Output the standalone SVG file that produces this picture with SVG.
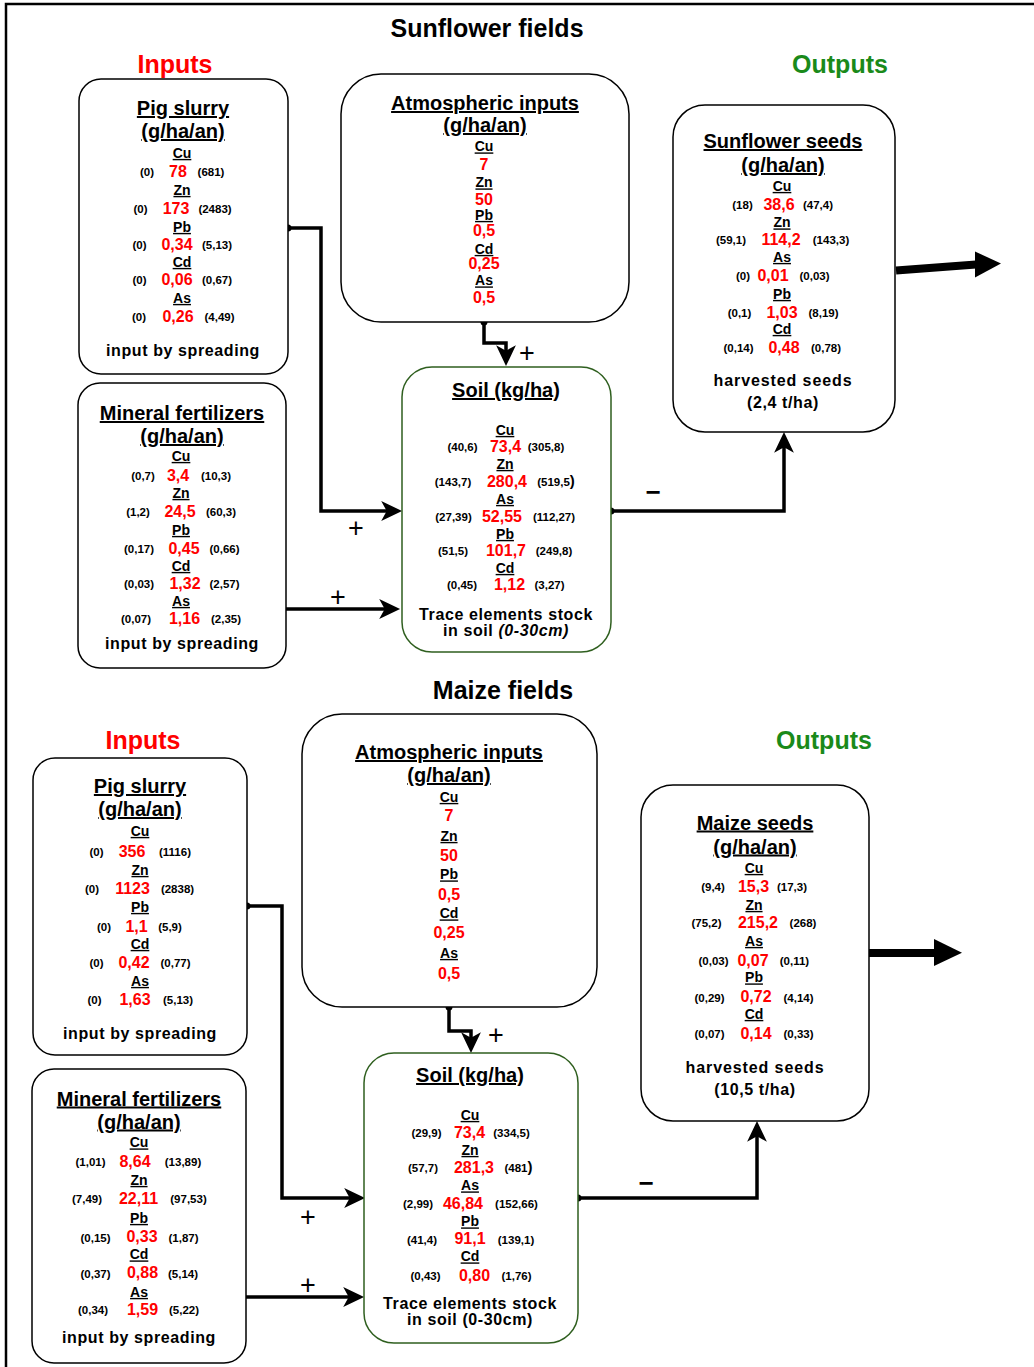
<svg xmlns="http://www.w3.org/2000/svg" width="1034" height="1367" viewBox="0 0 1034 1367">
<style>
.t{font-family:"Liberation Sans",Arial,sans-serif;font-weight:bold;text-anchor:middle;fill:#000}
.h1{font-size:25px}
.in{font-size:25px;fill:#ff0000}
.out{font-size:25px;fill:#1a8a1a}
.bt{font-size:20px;text-decoration:underline}
.el{font-size:14px;text-decoration:underline}
.v{font-size:16px;fill:#ff0000}
.r{font-size:11.5px}
.foot{font-size:16px;letter-spacing:0.6px}
.hs{font-size:16px;letter-spacing:0.9px}
.box{fill:#fff;stroke:#000;stroke-width:1.5}
.soil{fill:#fff;stroke:#2f5f1f;stroke-width:1.5}
.con{fill:none;stroke:#000;stroke-width:3.5}
.sign{font-family:"Liberation Sans",Arial,sans-serif;font-size:27px;text-anchor:middle;fill:#000}
.minus{font-family:"Liberation Sans",Arial,sans-serif;font-size:26px;font-weight:bold;text-anchor:middle;fill:#000}
</style>
<defs>
<marker id="arr" markerUnits="userSpaceOnUse" markerWidth="22" markerHeight="22" viewBox="0 0 20 20" refX="8" refY="10" orient="auto">
<path d="M0,1 L19,10 L0,19 L5,10 Z" fill="#000"/>
</marker>
</defs>
<rect width="1034" height="1367" fill="#fff"/>
<path d="M6,1367 V4 H1034" fill="none" stroke="#000" stroke-width="2.5"/>

<text class="t h1" dy=".35em" x="487" y="28">Sunflower fields</text>
<text class="t in" dy=".35em" x="175" y="64">Inputs</text>
<text class="t out" dy=".35em" x="840" y="64">Outputs</text>

<text class="t h1" dy=".35em" x="503" y="690">Maize fields</text>
<text class="t in" dy=".35em" x="143" y="740">Inputs</text>
<text class="t out" dy=".35em" x="824" y="740">Outputs</text>

<g id="connectors">
<path class="con" d="M288,228 H321 V511 H390" marker-end="url(#arr)"/>
<path class="con" d="M286,609 H388" marker-end="url(#arr)"/>
<path class="con" d="M484,322 V343 H506 V354" marker-end="url(#arr)"/>
<path class="con" d="M611,511 H784 V444" marker-end="url(#arr)"/>
<circle cx="288" cy="228" r="3.5"/>
<circle cx="484" cy="322" r="3.5"/>
<circle cx="611" cy="511" r="3.5"/>
<path d="M896,270.5 L976,264.5" stroke="#000" stroke-width="8" fill="none"/>
<path d="M975,251.5 L1001,263.5 L975,277.5 Z" fill="#000"/>
<text class="sign" dy=".35em" x="356" y="528">+</text>
<text class="sign" dy=".35em" x="338" y="597">+</text>
<text class="sign" dy=".35em" x="527" y="353">+</text>
<text class="minus" dy=".35em" x="653" y="492">−</text>

<path class="con" d="M247,906 H282 V1198 H353" marker-end="url(#arr)"/>
<path class="con" d="M246,1297 H352" marker-end="url(#arr)"/>
<path class="con" d="M449,1007 V1031 H471 V1041" marker-end="url(#arr)"/>
<path class="con" d="M578,1198 H757 V1133" marker-end="url(#arr)"/>
<circle cx="247" cy="906" r="3.5"/>
<circle cx="449" cy="1007" r="3.5"/>
<circle cx="578" cy="1198" r="3.5"/>
<path d="M869,953 L935,953" stroke="#000" stroke-width="8" fill="none"/>
<path d="M934,939 L962,952.7 L934,966 Z" fill="#000"/>
<text class="sign" dy=".35em" x="308" y="1217">+</text>
<text class="sign" dy=".35em" x="308" y="1285">+</text>
<text class="sign" dy=".35em" x="496" y="1035">+</text>
<text class="minus" dy=".35em" x="646" y="1183">−</text>
</g>

<g id="pig-slurry-sunflower">
<rect class="box" x="79" y="79" width="209" height="295" rx="22"/>
<text class="t bt" dy=".35em" x="183" y="108">Pig slurry</text>
<text class="t bt" dy=".35em" x="183" y="131">(g/ha/an)</text>
<text class="t el" dy=".35em" x="182" y="153">Cu</text>
<text class="t r" dy=".35em" x="147" y="172">(0)</text><text class="t v" dy=".35em" x="178" y="171">78</text><text class="t r" dy=".35em" x="211" y="172">(681)</text>
<text class="t el" dy=".35em" x="182" y="190">Zn</text>
<text class="t r" dy=".35em" x="140.5" y="209">(0)</text><text class="t v" dy=".35em" x="176" y="208">173</text><text class="t r" dy=".35em" x="215" y="209">(2483)</text>
<text class="t el" dy=".35em" x="182" y="227">Pb</text>
<text class="t r" dy=".35em" x="139.5" y="245">(0)</text><text class="t v" dy=".35em" x="177" y="244">0,34</text><text class="t r" dy=".35em" x="217" y="245">(5,13)</text>
<text class="t el" dy=".35em" x="182" y="262">Cd</text>
<text class="t r" dy=".35em" x="139.5" y="280">(0)</text><text class="t v" dy=".35em" x="177" y="279">0,06</text><text class="t r" dy=".35em" x="217" y="280">(0,67)</text>
<text class="t el" dy=".35em" x="182" y="298">As</text>
<text class="t r" dy=".35em" x="139" y="317">(0)</text><text class="t v" dy=".35em" x="178" y="316">0,26</text><text class="t r" dy=".35em" x="219.5" y="317">(4,49)</text>
<text class="t foot" dy=".35em" x="183" y="350">input by spreading</text>
</g>

<g id="mineral-fertilizers-sunflower">
<rect class="box" x="78" y="383" width="208" height="285" rx="22"/>
<text class="t bt" dy=".35em" x="182" y="413">Mineral fertilizers</text>
<text class="t bt" dy=".35em" x="182" y="436">(g/ha/an)</text>
<text class="t el" dy=".35em" x="181" y="456">Cu</text>
<text class="t r" dy=".35em" x="143" y="476">(0,7)</text><text class="t v" dy=".35em" x="178" y="475">3,4</text><text class="t r" dy=".35em" x="216" y="476">(10,3)</text>
<text class="t el" dy=".35em" x="181" y="493">Zn</text>
<text class="t r" dy=".35em" x="138" y="512">(1,2)</text><text class="t v" dy=".35em" x="180" y="511">24,5</text><text class="t r" dy=".35em" x="221" y="512">(60,3)</text>
<text class="t el" dy=".35em" x="181" y="530">Pb</text>
<text class="t r" dy=".35em" x="139" y="549">(0,17)</text><text class="t v" dy=".35em" x="184" y="548">0,45</text><text class="t r" dy=".35em" x="224.5" y="549">(0,66)</text>
<text class="t el" dy=".35em" x="181" y="566">Cd</text>
<text class="t r" dy=".35em" x="139" y="584">(0,03)</text><text class="t v" dy=".35em" x="185" y="583">1,32</text><text class="t r" dy=".35em" x="224.5" y="584">(2,57)</text>
<text class="t el" dy=".35em" x="181" y="601">As</text>
<text class="t r" dy=".35em" x="136" y="619">(0,07)</text><text class="t v" dy=".35em" x="184.5" y="618">1,16</text><text class="t r" dy=".35em" x="226" y="619">(2,35)</text>
<text class="t foot" dy=".35em" x="182" y="643">input by spreading</text>
</g>

<g id="atmospheric-sunflower">
<rect class="box" x="341" y="74" width="288" height="248" rx="40"/>
<text class="t bt" dy=".35em" x="485" y="103">Atmospheric inputs</text>
<text class="t bt" dy=".35em" x="485" y="125">(g/ha/an)</text>
<text class="t el" dy=".35em" x="484" y="146.5">Cu</text>
<text class="t v" dy=".35em" x="484" y="164">7</text>
<text class="t el" dy=".35em" x="484" y="182.5">Zn</text>
<text class="t v" dy=".35em" x="484" y="199">50</text>
<text class="t el" dy=".35em" x="484" y="215">Pb</text>
<text class="t v" dy=".35em" x="484" y="230">0,5</text>
<text class="t el" dy=".35em" x="484" y="249">Cd</text>
<text class="t v" dy=".35em" x="484" y="263.5">0,25</text>
<text class="t el" dy=".35em" x="484" y="280.5">As</text>
<text class="t v" dy=".35em" x="484" y="297.5">0,5</text>
</g>

<g id="soil-sunflower">
<rect class="soil" x="402" y="367" width="209" height="285" rx="30"/>
<text class="t bt" dy=".35em" x="506" y="390">Soil (kg/ha)</text>
<text class="t el" dy=".35em" x="505" y="430">Cu</text>
<text class="t r" dy=".35em" x="462.5" y="447">(40,6)</text><text class="t v" dy=".35em" x="505.5" y="446">73,4</text><text class="t r" dy=".35em" x="546" y="447">(305,8)</text>
<text class="t el" dy=".35em" x="505" y="464">Zn</text>
<text class="t r" dy=".35em" x="453" y="482">(143,7)</text><text class="t v" dy=".35em" x="507" y="481">280,4</text><text class="t r" dy=".35em" x="556" y="482">(519,5<tspan font-size="15">)</tspan></text>
<text class="t el" dy=".35em" x="505" y="499">As</text>
<text class="t r" dy=".35em" x="453.5" y="517">(27,39)</text><text class="t v" dy=".35em" x="502" y="516">52,55</text><text class="t r" dy=".35em" x="554" y="517">(112,27)</text>
<text class="t el" dy=".35em" x="505" y="534">Pb</text>
<text class="t r" dy=".35em" x="453" y="551">(51,5)</text><text class="t v" dy=".35em" x="506" y="550">101,7</text><text class="t r" dy=".35em" x="554" y="551">(249,8)</text>
<text class="t el" dy=".35em" x="505" y="568">Cd</text>
<text class="t r" dy=".35em" x="462" y="585">(0,45)</text><text class="t v" dy=".35em" x="509.5" y="584.5">1,12</text><text class="t r" dy=".35em" x="549.5" y="585">(3,27)</text>
<text class="t foot" dy=".35em" x="506" y="614.5">Trace elements stock</text>
<text class="t foot" dy=".35em" x="506" y="630">in soil <tspan font-style="italic">(0-30cm)</tspan></text>
</g>

<g id="sunflower-seeds">
<rect class="box" x="673" y="105" width="222" height="327" rx="32"/>
<text class="t bt" dy=".35em" x="783" y="141">Sunflower seeds</text>
<text class="t bt" dy=".35em" x="783" y="165">(g/ha/an)</text>
<text class="t el" dy=".35em" x="782" y="186">Cu</text>
<text class="t r" dy=".35em" x="742.5" y="205">(18)</text><text class="t v" dy=".35em" x="779" y="204">38,6</text><text class="t r" dy=".35em" x="818" y="205">(47,4)</text>
<text class="t el" dy=".35em" x="782" y="222.5">Zn</text>
<text class="t r" dy=".35em" x="731" y="240">(59,1)</text><text class="t v" dy=".35em" x="781" y="239">114,2</text><text class="t r" dy=".35em" x="831" y="240">(143,3)</text>
<text class="t el" dy=".35em" x="782" y="257">As</text>
<text class="t r" dy=".35em" x="743" y="276">(0)</text><text class="t v" dy=".35em" x="773" y="275">0,01</text><text class="t r" dy=".35em" x="814.5" y="276">(0,03)</text>
<text class="t el" dy=".35em" x="782" y="294">Pb</text>
<text class="t r" dy=".35em" x="739.5" y="313">(0,1)</text><text class="t v" dy=".35em" x="782" y="312">1,03</text><text class="t r" dy=".35em" x="823.5" y="313">(8,19)</text>
<text class="t el" dy=".35em" x="782" y="329">Cd</text>
<text class="t r" dy=".35em" x="738.5" y="348">(0,14)</text><text class="t v" dy=".35em" x="784" y="347">0,48</text><text class="t r" dy=".35em" x="826" y="348">(0,78)</text>
<text class="t hs" dy=".35em" x="783" y="380">harvested seeds</text>
<text class="t foot" dy=".35em" x="783" y="402">(2,4 t/ha)</text>
</g>

<g id="pig-slurry-maize">
<rect class="box" x="33" y="758" width="214" height="297" rx="22"/>
<text class="t bt" dy=".35em" x="140" y="786">Pig slurry</text>
<text class="t bt" dy=".35em" x="140" y="809">(g/ha/an)</text>
<text class="t el" dy=".35em" x="140" y="831">Cu</text>
<text class="t r" dy=".35em" x="96.5" y="852">(0)</text><text class="t v" dy=".35em" x="132" y="851">356</text><text class="t r" dy=".35em" x="175" y="852">(1116)</text>
<text class="t el" dy=".35em" x="140" y="870">Zn</text>
<text class="t r" dy=".35em" x="92" y="889">(0)</text><text class="t v" dy=".35em" x="132.5" y="888">1123</text><text class="t r" dy=".35em" x="177.5" y="889">(2838)</text>
<text class="t el" dy=".35em" x="140" y="907">Pb</text>
<text class="t r" dy=".35em" x="104" y="927">(0)</text><text class="t v" dy=".35em" x="136.5" y="926">1,1</text><text class="t r" dy=".35em" x="170" y="927">(5,9)</text>
<text class="t el" dy=".35em" x="140" y="944">Cd</text>
<text class="t r" dy=".35em" x="96.5" y="963">(0)</text><text class="t v" dy=".35em" x="134" y="962">0,42</text><text class="t r" dy=".35em" x="175.5" y="963">(0,77)</text>
<text class="t el" dy=".35em" x="140" y="981">As</text>
<text class="t r" dy=".35em" x="94.5" y="1000">(0)</text><text class="t v" dy=".35em" x="135" y="999">1,63</text><text class="t r" dy=".35em" x="178" y="1000">(5,13)</text>
<text class="t foot" dy=".35em" x="140" y="1033">input by spreading</text>
</g>

<g id="mineral-fertilizers-maize">
<rect class="box" x="32" y="1069" width="214" height="294" rx="22"/>
<text class="t bt" dy=".35em" x="139" y="1098.5">Mineral fertilizers</text>
<text class="t bt" dy=".35em" x="139" y="1121.5">(g/ha/an)</text>
<text class="t el" dy=".35em" x="139" y="1142.5">Cu</text>
<text class="t r" dy=".35em" x="90.5" y="1162">(1,01)</text><text class="t v" dy=".35em" x="135" y="1161">8,64</text><text class="t r" dy=".35em" x="183" y="1162">(13,89)</text>
<text class="t el" dy=".35em" x="139" y="1180">Zn</text>
<text class="t r" dy=".35em" x="87" y="1199">(7,49)</text><text class="t v" dy=".35em" x="138.5" y="1198">22,11</text><text class="t r" dy=".35em" x="188.5" y="1199">(97,53)</text>
<text class="t el" dy=".35em" x="139" y="1218">Pb</text>
<text class="t r" dy=".35em" x="95.5" y="1237.5">(0,15)</text><text class="t v" dy=".35em" x="142" y="1236.5">0,33</text><text class="t r" dy=".35em" x="183.5" y="1237.5">(1,87)</text>
<text class="t el" dy=".35em" x="139" y="1254.5">Cd</text>
<text class="t r" dy=".35em" x="95.5" y="1273.5">(0,37)</text><text class="t v" dy=".35em" x="142.5" y="1272.5">0,88</text><text class="t r" dy=".35em" x="183" y="1273.5">(5,14)</text>
<text class="t el" dy=".35em" x="139" y="1292">As</text>
<text class="t r" dy=".35em" x="93" y="1310">(0,34)</text><text class="t v" dy=".35em" x="142.5" y="1309">1,59</text><text class="t r" dy=".35em" x="184" y="1310">(5,22)</text>
<text class="t foot" dy=".35em" x="139" y="1337.5">input by spreading</text>
</g>

<g id="atmospheric-maize">
<rect class="box" x="302" y="714" width="295" height="293" rx="40"/>
<text class="t bt" dy=".35em" x="449" y="752">Atmospheric inputs</text>
<text class="t bt" dy=".35em" x="449" y="775">(g/ha/an)</text>
<text class="t el" dy=".35em" x="449" y="797">Cu</text>
<text class="t v" dy=".35em" x="449" y="815">7</text>
<text class="t el" dy=".35em" x="449" y="836">Zn</text>
<text class="t v" dy=".35em" x="449" y="855">50</text>
<text class="t el" dy=".35em" x="449" y="874.5">Pb</text>
<text class="t v" dy=".35em" x="449" y="894">0,5</text>
<text class="t el" dy=".35em" x="449" y="913.5">Cd</text>
<text class="t v" dy=".35em" x="449" y="932.5">0,25</text>
<text class="t el" dy=".35em" x="449" y="953">As</text>
<text class="t v" dy=".35em" x="449" y="973">0,5</text>
</g>

<g id="soil-maize">
<rect class="soil" x="364" y="1053" width="214" height="290" rx="30"/>
<text class="t bt" dy=".35em" x="470" y="1075">Soil (kg/ha)</text>
<text class="t el" dy=".35em" x="470" y="1115">Cu</text>
<text class="t r" dy=".35em" x="426.5" y="1133">(29,9)</text><text class="t v" dy=".35em" x="469.5" y="1132">73,4</text><text class="t r" dy=".35em" x="511.5" y="1133">(334,5)</text>
<text class="t el" dy=".35em" x="470" y="1150">Zn</text>
<text class="t r" dy=".35em" x="423" y="1168">(57,7)</text><text class="t v" dy=".35em" x="474" y="1167">281,3</text><text class="t r" dy=".35em" x="518.5" y="1168">(481<tspan font-size="15">)</tspan></text>
<text class="t el" dy=".35em" x="470" y="1185.5">As</text>
<text class="t r" dy=".35em" x="418" y="1204">(2,99)</text><text class="t v" dy=".35em" x="463" y="1203">46,84</text><text class="t r" dy=".35em" x="516.5" y="1204">(152,66)</text>
<text class="t el" dy=".35em" x="470" y="1221.5">Pb</text>
<text class="t r" dy=".35em" x="422" y="1239.5">(41,4)</text><text class="t v" dy=".35em" x="470" y="1238.5">91,1</text><text class="t r" dy=".35em" x="516" y="1239.5">(139,1)</text>
<text class="t el" dy=".35em" x="470" y="1256.5">Cd</text>
<text class="t r" dy=".35em" x="425.5" y="1276">(0,43)</text><text class="t v" dy=".35em" x="474.5" y="1275">0,80</text><text class="t r" dy=".35em" x="516.5" y="1276">(1,76)</text>
<text class="t foot" dy=".35em" x="470" y="1303">Trace elements stock</text>
<text class="t foot" dy=".35em" x="470" y="1319.5">in soil (0-30cm)</text>
</g>

<g id="maize-seeds">
<rect class="box" x="641" y="785" width="228" height="336" rx="32"/>
<text class="t bt" dy=".35em" x="755" y="822.5">Maize seeds</text>
<text class="t bt" dy=".35em" x="755" y="846.5">(g/ha/an)</text>
<text class="t el" dy=".35em" x="754" y="868">Cu</text>
<text class="t r" dy=".35em" x="713" y="887">(9,4)</text><text class="t v" dy=".35em" x="753.5" y="886">15,3</text><text class="t r" dy=".35em" x="792" y="887">(17,3)</text>
<text class="t el" dy=".35em" x="754" y="905">Zn</text>
<text class="t r" dy=".35em" x="706.5" y="923">(75,2)</text><text class="t v" dy=".35em" x="758" y="922">215,2</text><text class="t r" dy=".35em" x="803" y="923">(268)</text>
<text class="t el" dy=".35em" x="754" y="941">As</text>
<text class="t r" dy=".35em" x="713.5" y="961">(0,03)</text><text class="t v" dy=".35em" x="753" y="960">0,07</text><text class="t r" dy=".35em" x="794.5" y="961">(0,11)</text>
<text class="t el" dy=".35em" x="754" y="977.5">Pb</text>
<text class="t r" dy=".35em" x="709.5" y="997.5">(0,29)</text><text class="t v" dy=".35em" x="756" y="996.5">0,72</text><text class="t r" dy=".35em" x="798.5" y="997.5">(4,14)</text>
<text class="t el" dy=".35em" x="754" y="1014">Cd</text>
<text class="t r" dy=".35em" x="709.5" y="1034">(0,07)</text><text class="t v" dy=".35em" x="756" y="1033">0,14</text><text class="t r" dy=".35em" x="798.5" y="1034">(0,33)</text>
<text class="t hs" dy=".35em" x="755" y="1067">harvested seeds</text>
<text class="t foot" dy=".35em" x="755" y="1089">(10,5 t/ha)</text>
</g>
</svg>
